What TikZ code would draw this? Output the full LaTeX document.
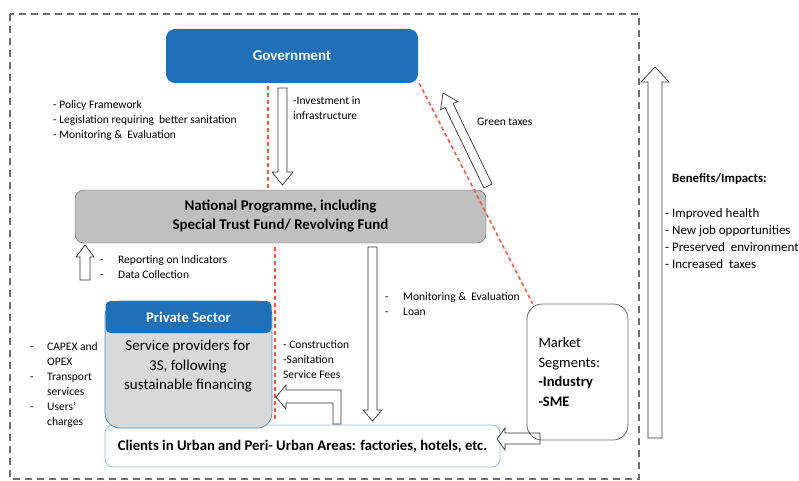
\documentclass[tikz,border=0pt]{standalone}
\usepackage{fontspec}
\setmainfont{Carlito}
\definecolor{govblue}{RGB}{31,112,185}
\definecolor{npgray}{RGB}{192,192,192}
\definecolor{psgray}{RGB}{217,217,217}
\definecolor{psedge}{RGB}{84,141,200}
\definecolor{clientedge}{RGB}{141,186,227}
\definecolor{dashred}{RGB}{239,90,64}
\definecolor{framegray}{RGB}{110,110,110}
\tikzset{
  lbl/.style={font=\fontsize{11.5}{15}\selectfont, align=left, inner sep=0pt, anchor=north west, yshift=-2pt},
  blockarrow/.style={draw=black!80, line width=0.7pt},
  reddash/.style={draw=dashred, dash pattern=on 4pt off 3pt, line width=1.5pt},
}

\begin{document}
\begin{tikzpicture}[x=1pt,y=-1pt]
    \useasboundingbox (0,0) rectangle (799,481);
    \draw [framegray, line width=1.5pt, dash pattern=on 7pt off 5pt] (10,14) rectangle (639,479);

    \node (gov) [fill=govblue, rounded corners=9pt, minimum width=252pt, minimum height=54pt,
        text=white, font=\fontsize{15}{17}\selectfont\bfseries] at (292,56) {Government};
    \node (np) [fill=npgray, draw=black!65, rounded corners=9pt, minimum width=411pt, minimum height=53pt,
        align=center, font=\fontsize{14.9}{19}\selectfont\bfseries] at (280.5,216.5)
        {National Programme, including\\Special Trust Fund/ Revolving Fund};
    \node (clients) [draw=clientedge, line width=0.8pt, fill=white, rounded corners=8pt, minimum width=395pt,
        minimum height=42pt, font=\fontsize{14.7}{16}\selectfont\bfseries] at (302.5,446)
        {Clients in Urban and Peri- Urban Areas: factories, hotels, etc.};
    \node (ps) [draw=psedge, line width=0.8pt, fill=psgray, rounded corners=15pt, minimum width=167pt,
        minimum height=127pt] at (188.5,364.5) {};
    \node (psh) [fill=govblue, rounded corners=5pt, minimum width=166pt, minimum height=32pt,
        text=white, font=\fontsize{14.7}{16}\selectfont\bfseries] at (188.5,317) {Private Sector};
    \node (pst) [align=center, inner sep=0pt, font=\fontsize{15}{19.5}\selectfont] at (188,366.5)
        {Service providers for\\3S, following\\sustainable financing};
    \node (market) [draw=black!60, line width=0.8pt, rounded corners=15pt, minimum height=136pt,
        text width=78pt, inner xsep=11.5pt, align=left, font=\fontsize{14.5}{19.5}\selectfont] at (577.5,372)
        {Market\\Segments:\\\textbf{-Industry}\\\textbf{-SME}};

    \coordinate (rx1) at (268,0);
    \coordinate (rx2) at (275,0);
    \draw [reddash] ([yshift=-3pt]rx1 |- gov.south) -- ([yshift=2pt]rx1 |- np.north);
    \draw [reddash] ([yshift=-4pt]rx2 |- np.south) -- ([yshift=6pt]rx2 |- clients.north);
    \draw [reddash] ([xshift=1pt]gov.south east) -- ([xshift=6pt]market.north west);

    \draw [blockarrow] (278,88) -- (287,88) -- (287,172) -- (293,172) -- (282.5,185) -- (272,172) -- (278,172) -- cycle;
    \draw [blockarrow] (80,280) -- (90,280) -- (90,257) -- (94,257) -- (85,245) -- (76,257) -- (80,257) -- cycle;
    \draw [blockarrow] (368,247) -- (377,247) -- (377,410) -- (382,410) -- (372.5,421) -- (363,410) -- (368,410) -- cycle;
    \draw [blockarrow] (648,438) -- (662,438) -- (662,82) -- (669,82) -- (655,67) -- (641,82) -- (648,82) -- cycle;
    \draw [blockarrow] (333,424) -- (341,424) -- (341,390) -- (286,390) -- (286,385) -- (276,397) -- (286,409) -- (286,403) -- (333,403) -- cycle;
    \draw [blockarrow] (540,433) -- (505,433) -- (505,428) -- (497,439) -- (505,450) -- (505,444) -- (540,444) -- cycle;
    \draw [blockarrow] (492.05,184.03) -- (453.15,103.63) -- (457.65,101.45) -- (443,93) -- (440.55,109.75) -- (445.05,107.57) -- (483.95,187.97) -- cycle;

    \node (policy) [lbl] at (53,98) {- Policy Framework\\- Legislation requiring\ \ better sanitation\\- Monitoring \&\ \ Evaluation};
    \node (invest) [lbl] at (293,94) {-Investment in\\infrastructure};
    \node (green) [lbl, anchor=west] at (477,120) {Green taxes};
    \node (report) [lbl] at (100,253) {\makebox[18pt][l]{-}Reporting on Indicators\\\makebox[18pt][l]{-}Data Collection};
    \node (monitor) [lbl] at (385,290) {\makebox[18pt][l]{-}Monitoring \&\ \ Evaluation\\\makebox[18pt][l]{-}Loan};
    \node (capex) [lbl] at (30,340) {\makebox[17pt][l]{-}CAPEX and\\\hspace*{17pt}OPEX\\\makebox[17pt][l]{-}Transport\\\hspace*{17pt}services\\\makebox[17pt][l]{-}Users’\\\hspace*{17pt}charges};
    \node (construct) [lbl] at (283,338) {- Construction\\-Sanitation\\Service Fees};
    \node (bhead) [lbl, anchor=west, font=\fontsize{12.8}{17}\selectfont\bfseries] at (672,177) {Benefits/Impacts:};
    \node (blist) [lbl, font=\fontsize{13}{17}\selectfont] at (665,206)
        {- Improved health\\- New job opportunities\\- Preserved\ \ environment\\- Increased\ \ taxes};
\end{tikzpicture}
\end{document}
